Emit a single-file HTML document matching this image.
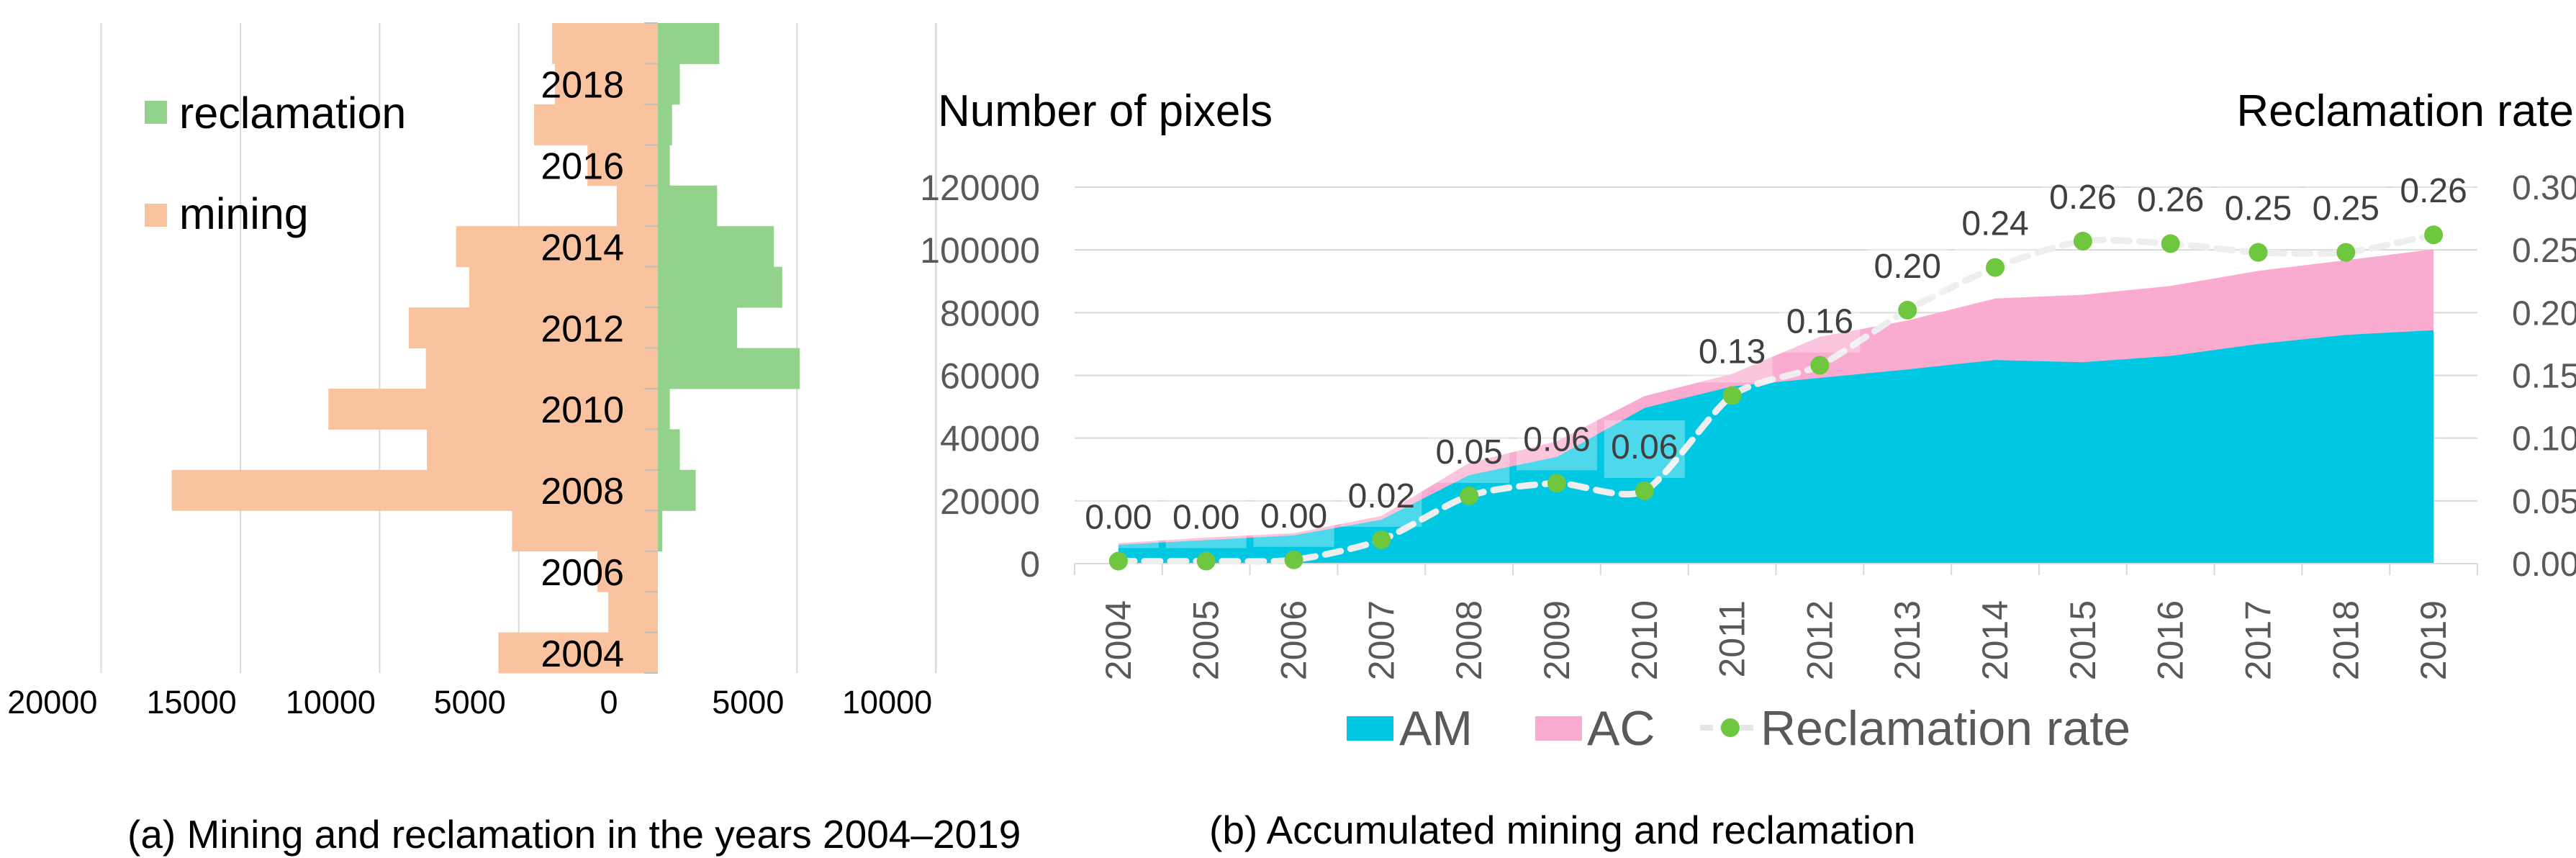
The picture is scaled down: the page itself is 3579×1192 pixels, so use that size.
<!DOCTYPE html>
<html><head><meta charset="utf-8"><style>
html,body{margin:0;padding:0;background:#fff}
svg{display:block;font-family:"Liberation Sans",sans-serif}
</style></head><body>
<svg id="fig" width="3579" height="1192" viewBox="0 0 3579 1192">
<g id="left"></g>
<g id="right"></g>
<text x="177" y="1178" font-size="55" fill="#000">(a) Mining and reclamation in the years 2004–2019</text>
<text x="1680" y="1172" font-size="55" fill="#000">(b) Accumulated mining and reclamation</text>
</svg>
<script>
// ---- Left chart data ----
const years = [2004,2005,2006,2007,2008,2009,2010,2011,2012,2013,2014,2015,2016,2017,2018,2019];
const mining = [5730,1780,2170,5240,17470,8300,11840,8340,8950,6780,7250,1480,2530,4450,3700,3800];
const reclamation = [0,0,0,160,1360,790,430,5100,2850,4470,4170,2130,430,510,790,2210];
const leftTicks = [20000,15000,10000,5000,0,5000,10000];
const leftTickSign = [-1,-1,-1,-1,0,1,1];
// ---- Right chart data ----
const amValues = [6000,7500,9000,14000,28200,34000,49600,56500,59200,61900,64900,64200,66200,70000,72900,74400];
const acValues = [500,800,700,1200,3900,5000,3800,4000,13100,15600,19600,21500,22300,23300,23800,25800];
const rateValues = [0.002,0.002,0.003,0.019,0.054,0.064,0.058,0.134,0.158,0.202,0.236,0.257,0.255,0.248,0.248,0.262];
const leftAxisTicks = [0,20000,40000,60000,80000,100000,120000];
const rightAxisTicks = [0,0.05,0.10,0.15,0.20,0.25,0.30];

const NS="http://www.w3.org/2000/svg";
function mk(parent,tag,attrs,text){const e=document.createElementNS(NS,tag);for(const k in attrs)e.setAttribute(k,attrs[k]);if(text!==undefined)e.textContent=text;parent.appendChild(e);return e;}

// ===== Left chart =====
const L=document.getElementById('left');
const x0=914, pxPer=193.3/5000;
const xL=v=>x0+v*pxPer;
const top0=32, rowH=(935-32)/16;
const rowY=i=>top0+(years.length-1-i)*rowH;
leftTickSign.forEach((s,i)=>{
  const gx=xL(s*leftTicks[i]);
  if(s!==0){const g=mk(L,'line',{x1:gx,x2:gx,y1:32,y2:935,stroke:'#d9d9d9','stroke-width':2});
  
  }
  const t=mk(L,'text',{x:gx-68,y:991,'font-size':45,'text-anchor':'middle',fill:'#000'},String(leftTicks[i]));
  
  
});
mk(L,'line',{x1:140,x2:140,y1:32,y2:935,stroke:'#e8e8e8','stroke-width':2});
years.forEach((y,i)=>{
  const m=mk(L,'rect',{x:xL(-mining[i]),y:rowY(i),width:mining[i]*pxPer,height:rowH+0.5,fill:'#f9c3a0'});
  
  
  if(reclamation[i]>0){const r=mk(L,'rect',{x:x0,y:rowY(i),width:reclamation[i]*pxPer,height:rowH+0.5,fill:'#93d28a'});
  
  }
});
for(let k=0;k<=16;k++){mk(L,'line',{x1:895,x2:x0,y1:top0+k*rowH,y2:top0+k*rowH,stroke:'#bfbfbf','stroke-width':2});}
years.forEach((y,i)=>{ if(y%2===0){
  const t=mk(L,'text',{x:867,y:rowY(i)+rowH/2+19,'font-size':52,'text-anchor':'end',fill:'#000'},String(y));
  
  
}});
let lg=mk(L,'rect',{x:201,y:140,width:31,height:32,fill:'#93d28a'});


lg=mk(L,'text',{x:249,y:178,'font-size':61,fill:'#000'},'reclamation');


lg=mk(L,'rect',{x:201,y:283,width:31,height:32,fill:'#f9c3a0'});


lg=mk(L,'text',{x:249,y:318,'font-size':61,fill:'#000'},'mining');


mk(L,'line',{x1:1300,x2:1300,y1:32,y2:935,stroke:'#d9d9d9','stroke-width':2});

// ===== Right chart =====
const R=document.getElementById('right');
const pL=1493,pR=3442,yBase=783,yTop=260;
const catW=(pR-pL)/years.length;
const xc=i=>pL+catW*(i+0.5);
const yv=v=>yBase-(v/120000)*(yBase-yTop);
const yr=r=>yBase-(r/0.30)*(yBase-yTop);
leftAxisTicks.forEach(v=>{
  const g=mk(R,'line',{x1:pL,x2:pR,y1:yv(v),y2:yv(v),stroke:'#d9d9d9','stroke-width':2});
  
  
  const t=mk(R,'text',{x:1445,y:yv(v)+18,'font-size':50,'text-anchor':'end',fill:'#595959'},String(v));
  
  
});
rightAxisTicks.forEach(v=>{
  const t=mk(R,'text',{x:3490,y:yr(v)+17,'font-size':48,fill:'#595959'},v.toFixed(2));
  
  
});
let totPts=years.map((y,i)=>[xc(i),yv(amValues[i]+acValues[i])]);
let amPts=years.map((y,i)=>[xc(i),yv(amValues[i])]);
const acD='M'+totPts.map(p=>p.join(',')).join(' L')+' L'+xc(years.length-1)+','+yBase+' L'+xc(0)+','+yBase+' Z';
const ac=mk(R,'path',{d:acD,fill:'#f9acd0'});


const amD='M'+amPts.map(p=>p.join(',')).join(' L')+' L'+xc(years.length-1)+','+yBase+' L'+xc(0)+','+yBase+' Z';
const am=mk(R,'path',{d:amD,fill:'#00c8e2'});


mk(R,'line',{x1:pL,x2:pR,y1:yBase,y2:yBase,stroke:'#d9d9d9','stroke-width':2});
for(let k=0;k<=years.length;k++){const tx=pL+k*catW;mk(R,'line',{x1:tx,x2:tx,y1:yBase,y2:yBase+16,stroke:'#d9d9d9','stroke-width':2});}
const rp=years.map((y,i)=>[xc(i),yr(rateValues[i])]);
let d='M'+rp[0].join(',');
for(let i=0;i<rp.length-1;i++){
  const p0=rp[Math.max(0,i-1)],p1=rp[i],p2=rp[i+1],p3=rp[Math.min(rp.length-1,i+2)];
  const c1=[p1[0]+(p2[0]-p0[0])/8,p1[1]+(p2[1]-p0[1])/8],c2=[p2[0]-(p3[0]-p1[0])/8,p2[1]-(p3[1]-p1[1])/8];
  d+=' C'+c1.join(',')+' '+c2.join(',')+' '+p2.join(',');
}
const rl=mk(R,'path',{d:d,fill:'none',stroke:'#eeeeee','stroke-width':9,'stroke-dasharray':'22 14','stroke-linecap':'round'});


years.forEach((y,i)=>{
  const ly=yr(rateValues[i])-62;
  mk(R,'rect',{x:xc(i)-56,y:ly-36,width:112,height:80,fill:'#ffffff','fill-opacity':0.3});
  const dot=mk(R,'circle',{cx:xc(i),cy:yr(rateValues[i]),r:13,fill:'#6fc63f'});
  
  
  const t=mk(R,'text',{x:xc(i),y:ly+17,'font-size':48,'text-anchor':'middle',fill:'#404040'},rateValues[i].toFixed(2));
  
  
  const xl=mk(R,'text',{x:0,y:0,'font-size':50,'text-anchor':'end',fill:'#595959',transform:'translate('+(xc(i)+17)+',834) rotate(-90)'},String(y));
  
  
});
let t;
t=mk(R,'text',{x:1303,y:175,'font-size':62,fill:'#000'},'Number of pixels');


t=mk(R,'text',{x:3576,y:175,'font-size':62,'text-anchor':'end',fill:'#000'},'Reclamation rate');


t=mk(R,'rect',{x:1871,y:995,width:65,height:34,fill:'#00c8e2'});


t=mk(R,'text',{x:1944,y:1035,'font-size':68,fill:'#595959'},'AM');


t=mk(R,'rect',{x:2133,y:995,width:65,height:34,fill:'#f9acd0'});


t=mk(R,'text',{x:2205,y:1035,'font-size':68,fill:'#595959'},'AC');


mk(R,'line',{x1:2362,x2:2436,y1:1011,y2:1011,stroke:'#e6e6e6','stroke-width':8,'stroke-dasharray':'18 10'});
t=mk(R,'circle',{cx:2404,cy:1011,r:13,fill:'#6fc63f'});


t=mk(R,'text',{x:2446,y:1035,'font-size':68,fill:'#595959'},'Reclamation rate');


</script>
</body></html>
